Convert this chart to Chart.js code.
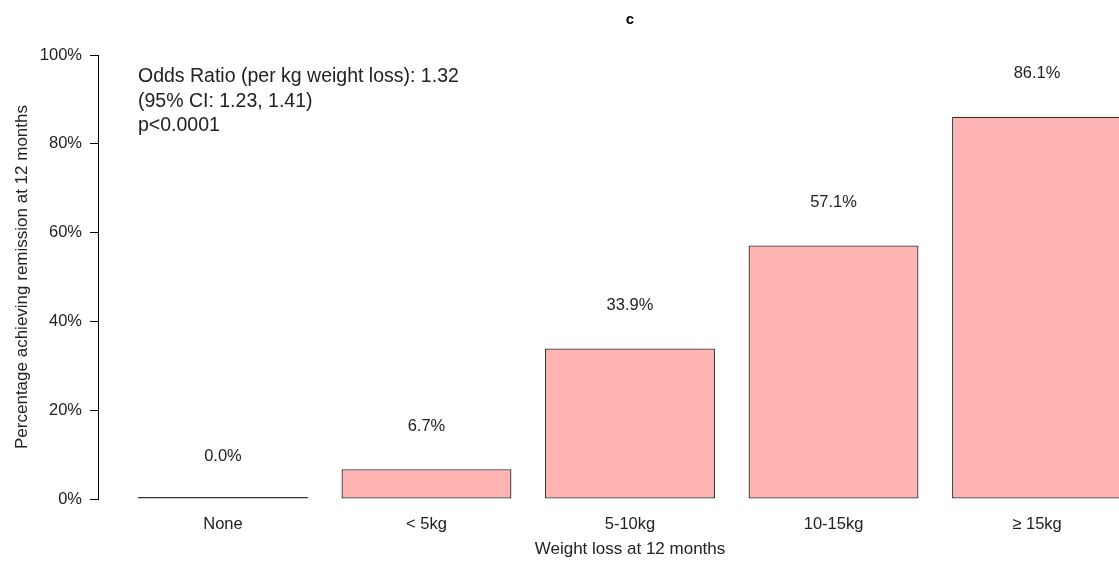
<!DOCTYPE html>
<html>
<head>
<meta charset="utf-8">
<script src="https://cdn.jsdelivr.net/npm/chart.js@4/dist/chart.umd.min.js"></script>
<style>
  html, body { margin: 0; padding: 0; background: #fff; overflow: hidden; }
  #wrap { width: 1162px; height: 563px; }
</style>
</head>
<body>
<div id="wrap"><canvas id="remission-chart"></canvas></div>
<script>
'use strict';

// data
var categories = ['None', '< 5kg', '5-10kg', '10-15kg', '\u2265 15kg'];
var remission = [0.0, 6.7, 33.9, 57.1, 86.1];
var yTicks = [0, 20, 40, 60, 80, 100];
var noteLines = [
  'Odds Ratio (per kg weight loss): 1.32',
  '(95% CI: 1.23, 1.41)',
  'p<0.0001'
];

var font = '"Liberation Sans", Arial, sans-serif';
var textColor = '#222';

// bar value labels + odds ratio note
var labelPlugin = {
  id: 'labels',
  afterDatasetsDraw: function (chart) {
    var ctx = chart.ctx;
    var xs = chart.scales.x;
    var ys = chart.scales.y;
    ctx.save();
    ctx.fillStyle = textColor;
    ctx.font = '16.5px ' + font;
    ctx.textAlign = 'center';
    ctx.textBaseline = 'middle';
    for (var i = 0; i < remission.length; i++) {
      ctx.fillText(remission[i].toFixed(1) + '%',
        xs.getPixelForValue(i), ys.getPixelForValue(remission[i]) - 43);
    }
    ctx.font = '19.5px ' + font;
    ctx.textAlign = 'left';
    for (var j = 0; j < noteLines.length; j++) {
      ctx.fillText(noteLines[j], chart.chartArea.left + 40, 77 + j * 24.5);
    }
    ctx.restore();
  }
};

var ctx = document.getElementById('remission-chart').getContext('2d');

var remissionChart = new Chart(ctx, {
  type: 'bar',
  data: {
    datasets: [{
      data: remission.map(function (v, i) { return { x: i, y: v }; }),
      backgroundColor: '#ffb3b3',
      borderColor: '#333',
      borderWidth: 1.3,
      borderSkipped: false,
      minBarLength: 2,
      barPercentage: 0.835,
      categoryPercentage: 1
    }]
  },
  options: {
    responsive: true,
    maintainAspectRatio: false,
    animation: false,
    layout: { padding: { left: 0, right: 0, top: 0, bottom: 0 } },
    plugins: {
      legend: { display: false },
      tooltip: { enabled: false },
      title: {
        display: true,
        text: 'c',
        fullSize: false,
        color: '#000',
        font: { family: font, size: 15, weight: 'bold' },
        padding: { top: 11, bottom: 26 }
      }
    },
    scales: {
      x: {
        type: 'linear',
        offset: false,
        min: -0.614,
        max: 4.614,
        afterBuildTicks: function (s) {
          s.ticks = s.ticks.filter(function (t) { return Number.isInteger(t.value); });
        },
        afterFit: function (s) { s.height = 64; },
        grid: { display: false, drawTicks: false, offset: false },
        border: { display: false },
        ticks: {
          stepSize: 1,
          autoSkip: false,
          maxRotation: 0,
          padding: 16,
          color: textColor,
          font: { family: font, size: 16.5 },
          callback: function (v) { return categories[v]; }
        },
        title: {
          display: true,
          text: 'Weight loss at 12 months',
          color: textColor,
          font: { family: font, size: 17 },
          padding: { top: 0, bottom: 3 }
        }
      },
      y: {
        min: 0,
        max: 100,
        afterBuildTicks: function (s) {
          s.ticks = yTicks.map(function (v) { return { value: v }; });
        },
        afterFit: function (s) { s.width = 98; },
        grid: { display: true, drawOnChartArea: false, drawTicks: true, tickLength: 8, color: '#000', tickWidth: 1 },
        border: { display: true, color: '#000', width: 1 },
        ticks: {
          padding: 8,
          color: textColor,
          font: { family: font, size: 16.5 },
          callback: function (v) { return v + '%'; }
        },
        title: {
          display: true,
          text: 'Percentage achieving remission at 12 months',
          color: textColor,
          font: { family: font, size: 17 },
          padding: { top: 12, bottom: 0 }
        }
      }
    }
  },
  plugins: [labelPlugin]
});
</script>
</body>
</html>
